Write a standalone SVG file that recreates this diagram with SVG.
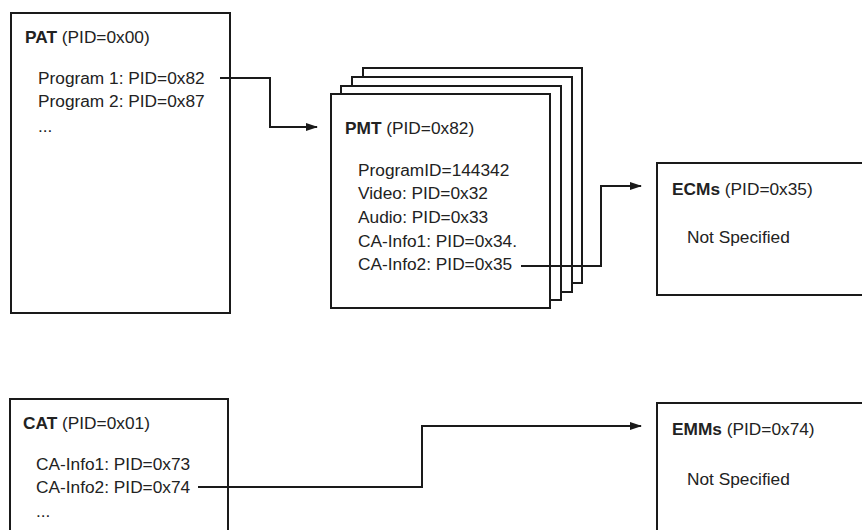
<svg xmlns="http://www.w3.org/2000/svg" width="862" height="530" viewBox="0 0 862 530">
<style>
.box{fill:#fff;stroke:#1a1a1a;stroke-width:2}
.t{font-family:"Liberation Sans",Arial,sans-serif;font-size:17.3px;fill:#222}
.b{font-weight:bold}
.c{fill:none;stroke:#1a1a1a;stroke-width:2}
</style>
<defs>
<marker id="ah" markerWidth="12" markerHeight="10" refX="11" refY="5" orient="auto" markerUnits="userSpaceOnUse">
<path d="M0,1 L12,5 L0,9 Z" fill="#1a1a1a"/>
</marker>
</defs>
<rect width="862" height="530" fill="#fff"/>
<g id="pat">
<rect class="box" x="11" y="13" width="219" height="300"/>
<text class="t" x="25" y="43"><tspan class="b">PAT</tspan> (PID=0x00)</text>
<text class="t" x="38" y="84">Program 1: PID=0x82</text>
<text class="t" x="38" y="107">Program 2: PID=0x87</text>
<text class="t" x="38" y="132">...</text>
</g>
<g id="pmt">
<rect class="box" x="363" y="68" width="219" height="215"/>
<rect class="box" x="352" y="77" width="220" height="215"/>
<rect class="box" x="341" y="86" width="220" height="214"/>
<rect class="box" x="331" y="94" width="219" height="214"/>
<text class="t" x="345" y="134"><tspan class="b">PMT</tspan> (PID=0x82)</text>
<text class="t" x="358" y="176">ProgramID=144342</text>
<text class="t" x="358" y="199">Video: PID=0x32</text>
<text class="t" x="358" y="223">Audio: PID=0x33</text>
<text class="t" x="358" y="247">CA-Info1: PID=0x34.</text>
<text class="t" x="358" y="270">CA-Info2: PID=0x35</text>
</g>
<g id="ecms">
<rect class="box" x="657" y="163" width="215" height="132"/>
<text class="t" x="672" y="195"><tspan class="b">ECMs</tspan> (PID=0x35)</text>
<text class="t" x="687" y="243">Not Specified</text>
</g>
<g id="cat">
<rect class="box" x="10" y="399" width="218" height="140"/>
<text class="t" x="23" y="429"><tspan class="b">CAT</tspan> (PID=0x01)</text>
<text class="t" x="36" y="470">CA-Info1: PID=0x73</text>
<text class="t" x="36" y="493">CA-Info2: PID=0x74</text>
<text class="t" x="36" y="517">...</text>
</g>
<g id="emms">
<rect class="box" x="657" y="403" width="215" height="140"/>
<text class="t" x="672" y="435"><tspan class="b">EMMs</tspan> (PID=0x74)</text>
<text class="t" x="687" y="485">Not Specified</text>
</g>
<g id="connectors">
<path class="c" d="M220,78 H270 V127 H317" marker-end="url(#ah)"/>
<path class="c" d="M521,266 H601 V186 H641" marker-end="url(#ah)"/>
<path class="c" d="M198,487 H422 V426 H641" marker-end="url(#ah)"/>
</g>
</svg>
